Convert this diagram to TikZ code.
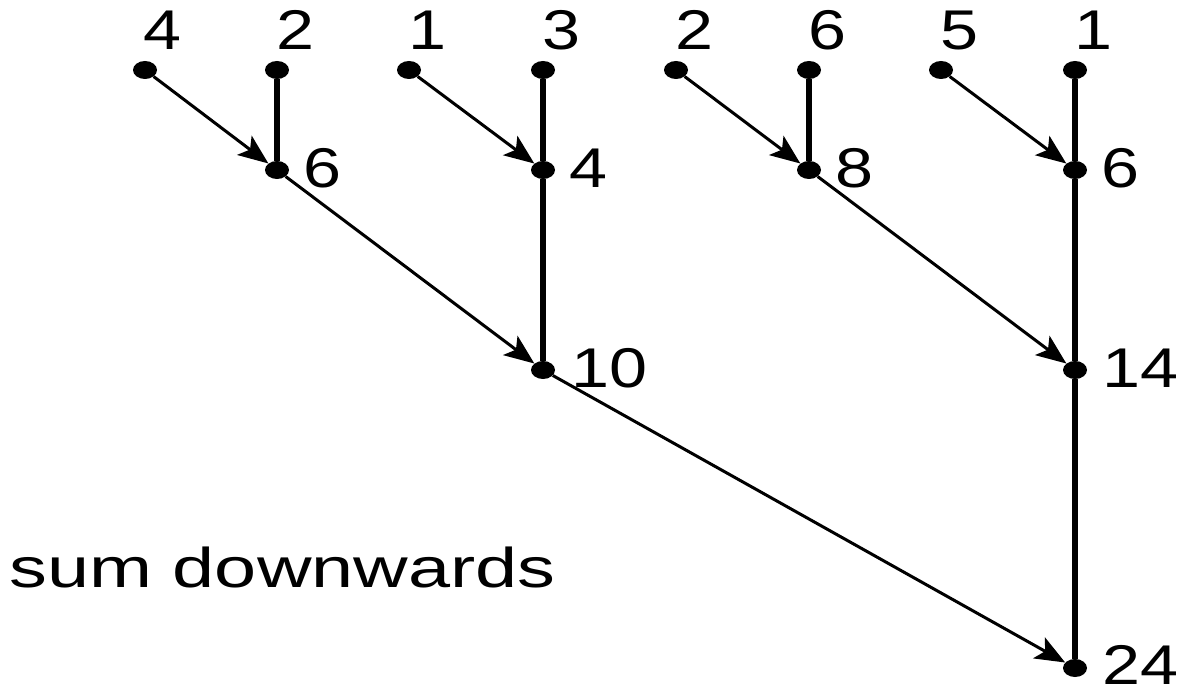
\documentclass[tikz,border=0pt]{standalone}
\usepackage{fontspec}
\newfontfamily\labfont[FakeStretch=1.22]{Liberation Sans}
\newfontfamily\sumfont[FakeStretch=1.35]{Liberation Sans}
\usetikzlibrary{arrows.meta,shapes.geometric}
\begin{document}
\begin{tikzpicture}[x=1pt,y=-1pt,
  dot/.style={ellipse,fill=black,inner sep=0pt,minimum width=24pt,minimum height=18pt},
  lab/.style={font=\labfont\fontsize{56}{60}\selectfont,inner sep=0pt,anchor=base west},
  sumlab/.style={font=\sumfont\fontsize{56}{60}\selectfont,inner sep=0pt,anchor=base west},
  vert/.style={line width=5.5pt},
  diag/.style={line width=3pt,-{Stealth[length=30pt,width=24pt,inset=7pt]}}]
\useasboundingbox (0,0) rectangle (1188,692);
% top level
\foreach \n/\x in {a1/145,a2/277,a3/409,a4/543,a5/676,a6/809,a7/941,a8/1075}
  \node[dot] (\n) at (\x,70) {};
\foreach \n/\x in {b1/277,b2/543,b3/809,b4/1075}
  \node[dot] (\n) at (\x,170) {};
\node[dot] (c1) at (543,370) {};
\node[dot] (c2) at (1075,370) {};
\node[dot] (d1) at (1075,668) {};
% labels
\node[lab] (la1) at (143,50) {4};
\node[lab] (la2) at (276,50) {2};
\node[lab] (la3) at (408,50) {1};
\node[lab] (la4) at (542,50) {3};
\node[lab] (la5) at (675,50) {2};
\node[lab] (la6) at (808,50) {6};
\node[lab] (la7) at (940,50) {5};
\node[lab] (la8) at (1074,50) {1};
\node[lab] (lb1) at (303,188) {6};
\node[lab] (lb2) at (569,188) {4};
\node[lab] (lb3) at (835,188) {8};
\node[lab] (lb4) at (1101,188) {6};
\node[lab] (lc1) at (571,387) {10};
\node[lab] (lc2) at (1102,387) {14};
\node[lab] (ld1) at (1102,684) {24};
\node[sumlab] (sum) at (9,587) {sum downwards};
% verticals
\draw[vert] (a2) -- (b1);
\draw[vert] (a4) -- (b2);
\draw[vert] (a6) -- (b3);
\draw[vert] (a8) -- (b4);
\draw[vert] (b2) -- (c1);
\draw[vert] (b4) -- (c2);
\draw[vert] (c2) -- (d1);
% diagonals
\draw[diag] (a1) -- (b1);
\draw[diag] (a3) -- (b2);
\draw[diag] (a5) -- (b3);
\draw[diag] (a7) -- (b4);
\draw[diag] (b1) -- (c1);
\draw[diag] (b3) -- (c2);
\draw[diag] (c1) -- (d1);
\end{tikzpicture}
\end{document}
